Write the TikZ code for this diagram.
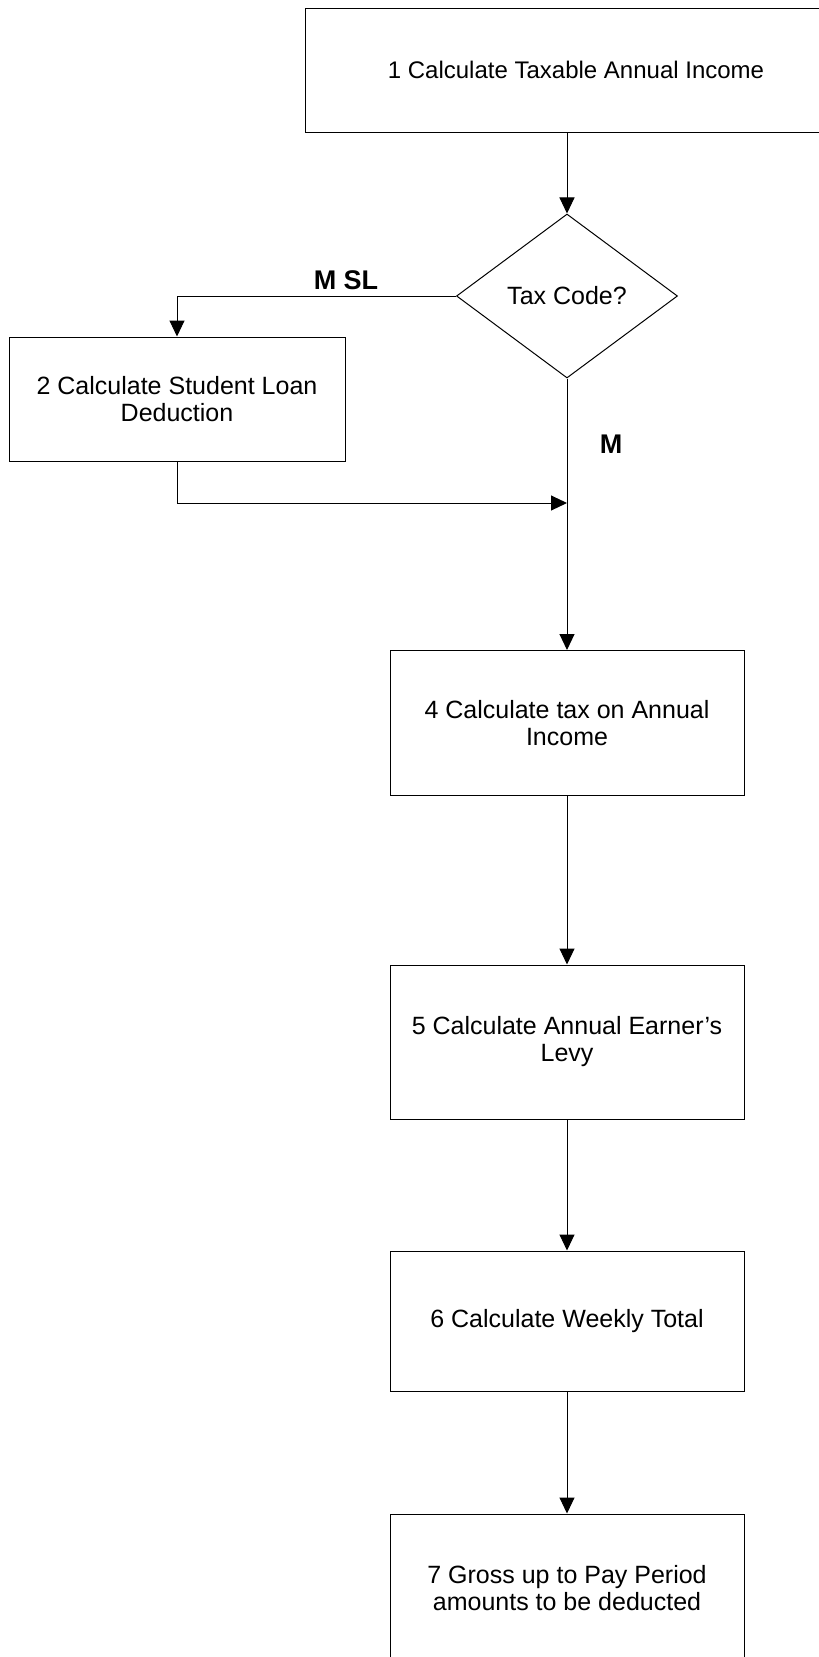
\documentclass[tikz,border=0pt]{standalone}
\usepackage{fontspec}
\setmainfont{Liberation Sans}
\usetikzlibrary{shapes.geometric}
\usetikzlibrary{arrows.meta}

\tikzset{
  procbox/.style={draw, line width=1pt, minimum width=354pt, minimum height=145pt, inner sep=0pt, align=center, font=\fontsize{25}{27}\selectfont},
  decision/.style={draw, diamond, line width=1pt, minimum width=221pt, minimum height=164pt, inner sep=0pt, font=\fontsize{25}{27}\selectfont},
  flow/.style={-{Triangle[width=15pt,length=16pt]}, line width=1pt},
  branchlabel/.style={inner sep=0pt, font=\fontsize{27}{30}\selectfont\bfseries},
}

\begin{document}
\begin{tikzpicture}[x=1pt, y=-1pt]
\useasboundingbox (0,0) rectangle (819,1657);
\clip (0,0) rectangle (819,1657);

\node[procbox, minimum width=542pt, minimum height=124pt, font=\fontsize{24}{27}\selectfont] (taxable) at (576,70) {1 Calculate Taxable Annual Income};
\node[decision] (taxcode) at (567,296) {Tax Code?};
\node[procbox, minimum width=336pt, minimum height=124pt] (loan) at (177,399) {2 Calculate Student Loan\\Deduction};
\node[procbox] (annualtax) at (567,723) {4 Calculate tax on Annual\\Income};
\node[procbox, minimum height=154pt] (levy) at (567,1042) {5 Calculate Annual Earner's\\Levy};
\node[procbox, minimum height=140pt] (weekly) at (567,1321) {6 Calculate Weekly Total};
\node[procbox, minimum height=148pt] (grossup) at (567,1588) {7 Gross up to Pay Period\\amounts to be deducted};

\node[branchlabel] (msl) at (346,280) {M SL};
\node[branchlabel] (m) at (611,444) {M};
\coordinate (merge) at (567,503);

\draw[flow] (taxcode |- taxable.south) -- (taxcode);
\draw[flow] (taxcode.west) -| (loan.north);
\draw[flow] (loan.south) |- (merge);
\draw[flow] (taxcode.south) -- (annualtax.north);
\draw[flow] (annualtax) -- (levy);
\draw[flow] (levy) -- (weekly);
\draw[flow] (weekly) -- (grossup);
\end{tikzpicture}
\end{document}
